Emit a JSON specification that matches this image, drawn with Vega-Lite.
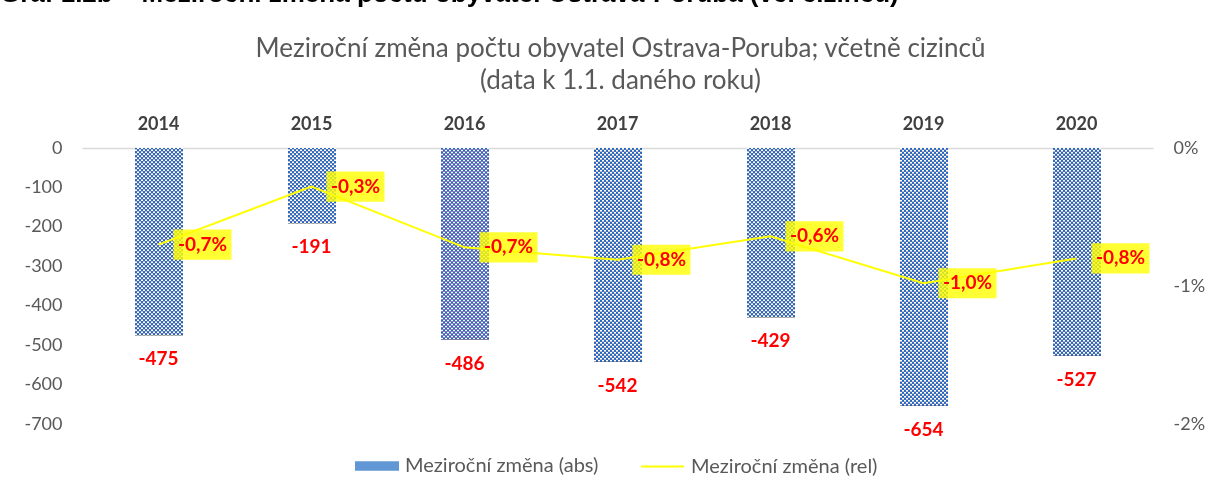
{
  "$schema": "https://vega.github.io/schema/vega-lite/v6.json",
  "width": 1071,
  "height": 276,
  "autosize": {"type": "none"},
  "padding": {"left": 82, "top": 148, "right": 54, "bottom": 66},
  "background": "white",
  "title": {
    "text": "Graf 1.2b – Meziroční změna počtu obyvatel Ostrava-Poruba (vč. cizinců)",
    "anchor": "start",
    "frame": "group",
    "font": "Liberation Sans",
    "fontWeight": "bold",
    "fontSize": 26,
    "color": "#000000",
    "baseline": "alphabetic",
    "offset": 10,
    "dx": -82,
    "dy": 3
  },
  "data": {
    "values": [
      {"year": "2014", "abs": -475, "rel": -0.0070},
      {"year": "2015", "abs": -191, "rel": -0.0028},
      {"year": "2016", "abs": -486, "rel": -0.0072},
      {"year": "2017", "abs": -542, "rel": -0.0081},
      {"year": "2018", "abs": -429, "rel": -0.0064},
      {"year": "2019", "abs": -654, "rel": -0.0098},
      {"year": "2020", "abs": -527, "rel": -0.0080}
    ]
  },
  "encoding": {
    "x": {
      "field": "year",
      "type": "ordinal",
      "scale": {"paddingInner": 0.6, "paddingOuter": 0.3},
      "axis": {
        "orient": "top",
        "title": ["Meziroční změna počtu obyvatel Ostrava-Poruba; včetně cizinců", "(data k 1.1. daného roku)"],
        "titleFont": "Lato",
        "titleFontSize": 26,
        "titleFontWeight": "normal",
        "titleColor": "#595959",
        "titleX": 538,
        "titleY": -92,
        "titleAlign": "center",
        "titleBaseline": "alphabetic",
        "titleLineHeight": 32,
        "labelAngle": 0,
        "labelFont": "Lato",
        "labelFontSize": 18,
        "labelFontWeight": "bold",
        "labelColor": "#404040",
        "labelBaseline": "alphabetic",
        "labelPadding": 19,
        "ticks": false,
        "domainColor": "#D9D9D9",
        "domainWidth": 1.5,
        "grid": false
      }
    }
  },
  "layer": [
    {
      "encoding": {
        "y": {
          "field": "abs",
          "type": "quantitative",
          "scale": {"domain": [-700, 0], "nice": false, "zero": false},
          "axis": {
            "orient": "left",
            "values": [0, -100, -200, -300, -400, -500, -600, -700],
            "format": "d",
            "title": null,
            "grid": false,
            "domain": false,
            "ticks": false,
            "labelOverlap": false,
            "labelSeparation": 0,
            "labelFlush": false,
            "labelFont": "Lato",
            "labelFontSize": 18,
            "labelColor": "#595959",
            "labelPadding": 20
          }
        }
      },
      "layer": [
        {
          "mark": {
            "type": "bar",
            "width": 48,
            "xOffset": 0.5,
            "fill": {
              "gradient": "linear", "x1": 0, "y1": 0, "x2": 1, "y2": 0,
              "stops": [
                {"offset": 0, "color": "#000000"}, {"offset": 0.041667, "color": "#000000"},
                {"offset": 0.041667, "color": "#ffffff"}, {"offset": 0.083333, "color": "#ffffff"},
                {"offset": 0.083333, "color": "#000000"}, {"offset": 0.125, "color": "#000000"},
                {"offset": 0.125, "color": "#ffffff"}, {"offset": 0.166667, "color": "#ffffff"},
                {"offset": 0.166667, "color": "#000000"}, {"offset": 0.208333, "color": "#000000"},
                {"offset": 0.208333, "color": "#ffffff"}, {"offset": 0.25, "color": "#ffffff"},
                {"offset": 0.25, "color": "#000000"}, {"offset": 0.291667, "color": "#000000"},
                {"offset": 0.291667, "color": "#ffffff"}, {"offset": 0.333333, "color": "#ffffff"},
                {"offset": 0.333333, "color": "#000000"}, {"offset": 0.375, "color": "#000000"},
                {"offset": 0.375, "color": "#ffffff"}, {"offset": 0.416667, "color": "#ffffff"},
                {"offset": 0.416667, "color": "#000000"}, {"offset": 0.458333, "color": "#000000"},
                {"offset": 0.458333, "color": "#ffffff"}, {"offset": 0.5, "color": "#ffffff"},
                {"offset": 0.5, "color": "#000000"}, {"offset": 0.541667, "color": "#000000"},
                {"offset": 0.541667, "color": "#ffffff"}, {"offset": 0.583333, "color": "#ffffff"},
                {"offset": 0.583333, "color": "#000000"}, {"offset": 0.625, "color": "#000000"},
                {"offset": 0.625, "color": "#ffffff"}, {"offset": 0.666667, "color": "#ffffff"},
                {"offset": 0.666667, "color": "#000000"}, {"offset": 0.708333, "color": "#000000"},
                {"offset": 0.708333, "color": "#ffffff"}, {"offset": 0.75, "color": "#ffffff"},
                {"offset": 0.75, "color": "#000000"}, {"offset": 0.791667, "color": "#000000"},
                {"offset": 0.791667, "color": "#ffffff"}, {"offset": 0.833333, "color": "#ffffff"},
                {"offset": 0.833333, "color": "#000000"}, {"offset": 0.875, "color": "#000000"},
                {"offset": 0.875, "color": "#ffffff"}, {"offset": 0.916667, "color": "#ffffff"},
                {"offset": 0.916667, "color": "#000000"}, {"offset": 0.958333, "color": "#000000"},
                {"offset": 0.958333, "color": "#ffffff"}, {"offset": 1, "color": "#ffffff"}
              ]
            }
          }
        },
        {
          "mark": {"type": "rule", "xOffset": 0.5, "strokeWidth": 48, "stroke": "#ffffff", "strokeDash": [2, 2], "strokeCap": "butt", "blend": "difference"},
          "encoding": {
            "y2": {"datum": 0}
          }
        },
        {
          "mark": {"type": "bar", "width": 48, "xOffset": 0.5, "blend": "lighten"},
          "encoding": {
            "fill": {
              "datum": "Meziroční změna (abs)",
              "type": "nominal",
              "scale": {"range": ["#1F6BC4"]},
              "legend": {
                "orient": "none",
                "legendX": 273,
                "legendY": 296,
                "title": null,
                "labelFont": "Lato",
                "labelFontSize": 20,
                "labelColor": "#595959",
                "labelLimit": 400,
                "symbolType": "M-1,-0.22H1V0.22H-1Z",
                "symbolSize": 1936,
                "symbolOpacity": 0.7,
                "symbolStrokeWidth": 0,
                "labelOffset": 6
              }
            }
          }
        },
        {
          "mark": {"type": "text", "font": "Lato", "fontSize": 19, "fontWeight": "bold", "color": "#FF0000", "baseline": "middle", "align": "center", "dy": 24},
          "encoding": {
            "text": {"field": "abs", "type": "quantitative", "format": "d"}
          }
        }
      ]
    },
    {
      "encoding": {
        "y": {
          "field": "rel",
          "type": "quantitative",
          "scale": {"domain": [-0.02, 0], "nice": false, "zero": false},
          "axis": {
            "orient": "right",
            "values": [0, -0.01, -0.02],
            "format": ".0%",
            "title": null,
            "grid": false,
            "domain": false,
            "ticks": false,
            "labelOverlap": false,
            "labelFlush": false,
            "labelFont": "Lato",
            "labelFontSize": 18,
            "labelColor": "#595959",
            "labelPadding": 20
          }
        }
      },
      "layer": [
        {
          "mark": {"type": "line", "strokeWidth": 2},
          "encoding": {
            "stroke": {
              "datum": "Meziroční změna (rel)",
              "type": "nominal",
              "scale": {"range": ["#FFFF00"]},
              "legend": {
                "orient": "none",
                "legendX": 558,
                "legendY": 296,
                "title": null,
                "labelFont": "Lato",
                "labelFontSize": 20,
                "labelColor": "#595959",
                "labelLimit": 400,
                "symbolType": "stroke",
                "symbolSize": 1849,
                "symbolStrokeWidth": 2,
                "labelOffset": 6
              }
            }
          }
        },
        {
          "mark": {"type": "point", "shape": "M-1,-0.52H1V0.52H-1Z", "size": 3364, "filled": true, "fill": "#FFFF00", "fillOpacity": 0.8, "strokeWidth": 0, "xOffset": 44}
        },
        {
          "mark": {"type": "text", "font": "Lato", "fontSize": 19, "fontWeight": "bold", "color": "#FF0000", "baseline": "middle", "align": "center", "xOffset": 44},
          "encoding": {
            "text": {"field": "rel", "type": "quantitative", "format": ".1%"}
          }
        }
      ]
    }
  ],
  "resolve": {"scale": {"y": "independent"}},
  "config": {
    "view": {"stroke": null},
    "font": "Lato",
    "axis": {"labelOverlap": false},
    "locale": {
      "number": {"decimal": ",", "thousands": " ", "grouping": [3], "currency": ["", " Kč"], "minus": "-"}
    }
  }
}
